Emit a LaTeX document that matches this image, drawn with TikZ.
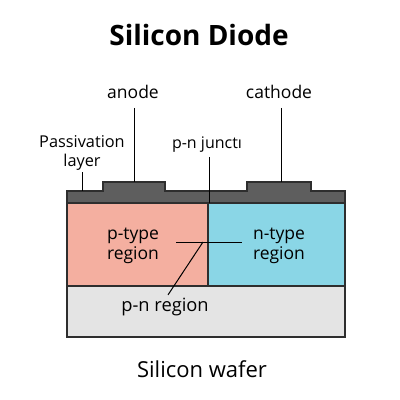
\documentclass[tikz,border=0pt]{standalone}
\usepackage{fontspec}
\setmainfont{Open Sans}
\usetikzlibrary{positioning}

\definecolor{layergray}{HTML}{5E5E5E}
\definecolor{ptypered}{HTML}{F4AFA0}
\definecolor{ntypeblue}{HTML}{8AD6E6}
\definecolor{wafergray}{HTML}{E4E4E4}
\definecolor{edgegray}{HTML}{2E2E2E}

\begin{document}
\begin{tikzpicture}[x=1pt,y=-1pt]
\tikzset{part/.style = {draw=edgegray, line width=1.1pt},
         lbl/.style = {font=\fontsize{17.5}{20.5}\selectfont, inner sep=0pt, align=center},
         lead/.style = {draw=black, line width=1pt}}

\useasboundingbox (0,0) rectangle (400,400);

% body of the diode
\path[part, fill=wafergray] (67,286) rectangle (345,337);
\path[part, fill=ptypered] (67,203) rectangle (208,286);
\path[part, fill=ntypeblue] (208,203) rectangle (345,286);
\path[part, fill=layergray] (67,203) -- (67,191) -- (103,191) -- (103,182)
  -- (165,182) -- (165,191) -- (247,191) -- (247,182) -- (311,182)
  -- (311,191) -- (345,191) -- (345,203) -- cycle;

% texts
\node[font=\bfseries\fontsize{28}{32}\selectfont, inner sep=0pt] (title) at (199,35) {Silicon Diode};
\node[lbl] (anode) at (133,92) {anode};
\node[lbl] (cathode) at (279,92) {cathode};
\node[lbl, font=\fontsize{16.3}{18.5}\selectfont] (pass) at (82,153) {Passivation\\layer};
\node[lbl, font=\fontsize{16}{18}\selectfont] (junct) at (207,145) {p-n junctı};
\node[lbl] (ptype) at (133,246) {p-type\\region};
\node[lbl] (ntype) at (279,246) {n-type\\region};
\node[lbl, font=\fontsize{18.3}{21}\selectfont] (pnreg) at (165,307) {p-n region};
\node[lbl, font=\fontsize{22}{25}\selectfont] (wafer) at (202,369) {Silicon wafer};

% lead ends
\coordinate (anodetop) at (134,182);
\coordinate (cathtop) at (281,182);
\coordinate (passtop) at (82,191);
\coordinate (pnedge) at (208,203);
\coordinate (hleft) at (176,242);
\coordinate (hright) at (242,242);
\coordinate (pnpoint) at (203,242);

\draw[lead] (anode.south) ++(1,9) coordinate (a1) -- (a1 |- anodetop);
\draw[lead] (cathode.south) ++(2,9) coordinate (c1) -- (c1 |- cathtop);
\draw[lead] (pass.south) ++(0,2) coordinate (p1) -- (p1 |- passtop);
\draw[lead] (junct.south) ++(2,4) coordinate (j1) -- (j1 |- pnedge);
\draw[lead] (hleft) -- (hright);
\draw[lead] (pnreg.north) ++(3,-3) -- (pnpoint);

\end{tikzpicture}
\end{document}
